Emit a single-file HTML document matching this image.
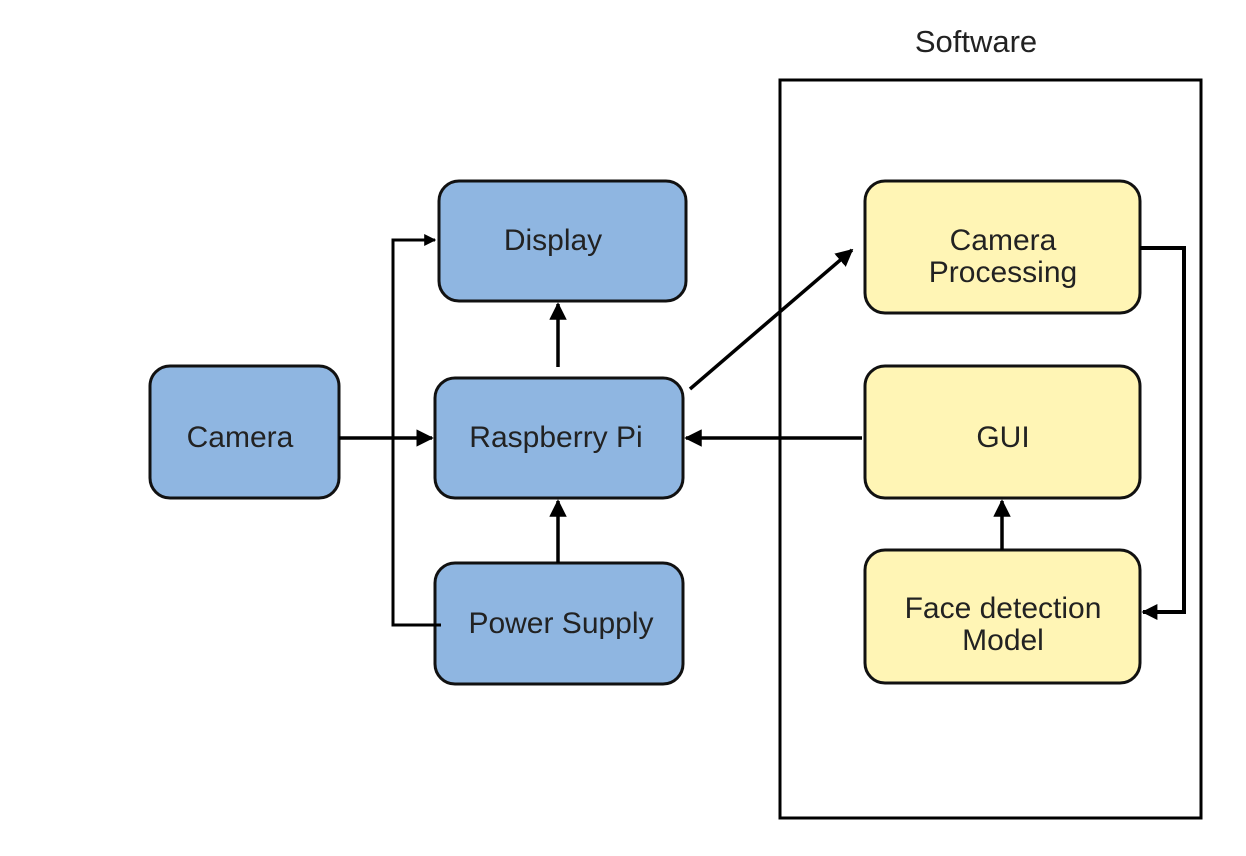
<!DOCTYPE html>
<html><head><style>body{margin:0;background:#fff}svg{display:block}</style></head><body>
<svg width="1246" height="856" viewBox="0 0 1246 856" xmlns="http://www.w3.org/2000/svg" font-family="Liberation Sans, Arial, sans-serif" font-size="30" fill="#222">
<defs>
<marker id="a" viewBox="0 0 10 10" refX="9" refY="5" markerWidth="4" markerHeight="4" orient="auto"><path d="M0,0L10,5L0,10z" fill="#000"/></marker>
<marker id="b" viewBox="0 0 10 10" refX="9" refY="5" markerWidth="5" markerHeight="5" orient="auto"><path d="M0,0L10,5L0,10z" fill="#000"/></marker>
</defs>
<text x="976" y="52" text-anchor="middle" font-size="31">Software</text>
<rect x="780" y="80" width="421" height="738" fill="none" stroke="#000" stroke-width="3"/>
<g stroke="#111" stroke-width="3">
<rect x="150" y="366" width="189" height="132" rx="20" fill="#8fb6e1"/>
<rect x="439" y="181" width="247" height="120" rx="20" fill="#8fb6e1"/>
<rect x="435" y="378" width="248" height="120" rx="20" fill="#8fb6e1"/>
<rect x="435" y="563" width="248" height="121" rx="20" fill="#8fb6e1"/>
<rect x="865" y="181" width="275" height="132" rx="20" fill="#fff5b5"/>
<rect x="865" y="366" width="275" height="132" rx="20" fill="#fff5b5"/>
<rect x="865" y="550" width="275" height="133" rx="20" fill="#fff5b5"/>
</g>
<g stroke="#000" stroke-width="3.5" fill="none">
<line x1="339" y1="438" x2="432" y2="438" marker-end="url(#b)"/>
<polyline points="441,625 393,625 393,240 435,240" stroke-width="3" marker-end="url(#a)"/>
<line x1="558" y1="367" x2="558" y2="304" marker-end="url(#b)"/>
<line x1="558" y1="563" x2="558" y2="501" marker-end="url(#b)"/>
<line x1="690" y1="389" x2="852" y2="250" marker-end="url(#b)"/>
<line x1="862" y1="438" x2="686" y2="438" marker-end="url(#b)"/>
<polyline points="1140,248 1184,248 1184,612 1143,612" stroke-width="4" marker-end="url(#a)"/>
<line x1="1002" y1="550" x2="1002" y2="501" marker-end="url(#b)"/>
</g>
<g text-anchor="middle">
<text x="240" y="447">Camera</text>
<text x="553" y="250">Display</text>
<text x="556" y="447">Raspberry Pi</text>
<text x="561" y="633">Power Supply</text>
<text x="1003" y="250">Camera</text>
<text x="1003" y="282">Processing</text>
<text x="1003" y="447">GUI</text>
<text x="1003" y="618">Face detection</text>
<text x="1003" y="650">Model</text>
</g>
</svg>
</body></html>
